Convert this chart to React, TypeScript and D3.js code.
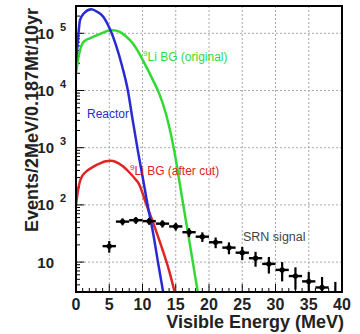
import React from 'react';
import * as d3 from 'd3';

// Reactor anti-neutrino background (events per 2 MeV bin)
const reactorE = [0, 0.3, 0.6, 1.2, 2.3, 3, 4.1, 5, 6, 7, 7.8, 8.5, 9.3, 10, 10.8, 11.6, 12.4, 13.2];
const reactorN = [31600, 79000, 170000, 224000, 263000, 245000, 195000, 126000, 63000, 25000, 10000, 3160, 890, 316, 95, 32, 8.9, 2.6];

// 9Li background before cuts
const liOrigE = [0, 0.4, 1, 1.5, 2, 3, 4, 5, 5.6, 6.5, 7.5, 8.5, 9.5, 10.5, 11.5, 12.5, 13.5, 14.6, 15, 16, 17, 17.6, 18.4];
const liOrigN = [20000, 40000, 67600, 76000, 81000, 91000, 102000, 112000, 113500, 107000, 89000, 67600, 44700, 26900, 15800, 8900, 4000, 1120, 630, 123, 25, 9.5, 2.6];

// 9Li background after cuts
const liCutE = [0, 0.3, 0.7, 1.5, 2.5, 3.5, 4.5, 5.2, 6, 7, 8, 9, 9.4, 10.6, 12, 13, 14, 14.9];
const liCutN = [100, 178, 282, 380, 457, 525, 582, 589, 562, 479, 372, 275, 240, 100, 36, 16.6, 7.1, 2.8];

// SRN signal histogram: bin centres, contents and errors
const srnE = [5, 7, 9, 11, 13, 15, 17, 19, 21, 23, 25, 27, 29, 31, 33, 35, 37, 39];
const srnN = [19, 51, 54, 52, 47, 42, 33.3, 27.8, 22.2, 17.9, 14.6, 11.7, 9.3, 7.3, 5.7, 4.6, 3.6, 2.8];
const srnErr = [4.4, 7.1, 7.3, 7.2, 6.9, 6.5, 5.8, 5.3, 4.7, 4.2, 3.8, 3.4, 3.0, 2.7, 2.4, 2.1, 1.9, 1.7];

const xTickValues = [0, 5, 10, 15, 20, 25, 30, 35, 40];
const yDecadeExps = [1, 2, 3, 4, 5];

const W = 360;
const H = 334;
const plot = { left: 76, right: 342, top: 6, bottom: 292 };

const BLUE = '#2a2ad4';
const GREEN = '#33d933';
const RED = '#e02424';
const FONT = "'Liberation Sans', Arial, Helvetica, sans-serif";

export default function App() {
  const x = d3.scaleLinear().domain([0, 40]).range([plot.left, plot.right]);
  const y = d3.scaleLog().domain([3, 3e5]).range([plot.bottom, plot.top]);

  const line = d3
    .line<[number, number]>()
    .x((d) => x(d[0]))
    .y((d) => y(d[1]))
    .curve(d3.curveMonotoneX);

  const zip = (a: number[], b: number[]) => a.map((v, i) => [v, b[i]] as [number, number]);

  const yMinor: number[] = [];
  for (let d = 0; d <= 5; d++) {
    for (let k = 1; k <= 9; k++) {
      const v = k * Math.pow(10, d);
      if (v >= 3 && v <= 3e5) yMinor.push(v);
    }
  }
  const xMinor = d3.range(0, 40.01, 1);

  const [y0, y1] = y.domain();

  return (
    <svg
      width={W}
      height={H}
      style={{ position: 'absolute', left: 0, top: 0, background: '#fff' }}
      fontFamily={FONT}
    >
      <defs>
        <clipPath id="plotArea">
          <rect x={plot.left} y={plot.top} width={plot.right - plot.left} height={plot.bottom - plot.top} />
        </clipPath>
      </defs>

      {/* grid */}
      <g stroke="#a8a8a8" strokeWidth={1} strokeDasharray="2,2">
        {xTickValues.slice(1, -1).map((v) => (
          <line key={'gx' + v} x1={x(v)} x2={x(v)} y1={plot.top} y2={plot.bottom} />
        ))}
        {yDecadeExps.map((e) => (
          <line key={'gy' + e} x1={plot.left} x2={plot.right} y1={y(Math.pow(10, e))} y2={y(Math.pow(10, e))} />
        ))}
      </g>

      {/* ticks */}
      <g stroke="#000" strokeWidth={1}>
        {xMinor.map((v) => (
          <line key={'tx' + v} x1={x(v)} x2={x(v)} y1={plot.bottom} y2={plot.bottom - (v % 5 === 0 ? 8 : 4)} />
        ))}
        {yMinor.map((v) => {
          const major = Math.abs(Math.log10(v) - Math.round(Math.log10(v))) < 1e-9;
          return <line key={'ty' + v} x1={plot.left} x2={plot.left + (major ? 8 : 4)} y1={y(v)} y2={y(v)} />;
        })}
      </g>

      {/* curves */}
      <g clipPath="url(#plotArea)" fill="none" strokeWidth={2.5} strokeLinejoin="round">
        <path d={line(zip(liOrigE, liOrigN)) || ''} stroke={GREEN} />
        <path d={line(zip(liCutE, liCutN)) || ''} stroke={RED} />
        <path d={line(zip(reactorE, reactorN)) || ''} stroke={BLUE} />
      </g>

      {/* SRN signal */}
      <g clipPath="url(#plotArea)" stroke="#000" fill="#000">
        {srnE.map((e, i) => {
          const n = srnN[i];
          const err = srnErr[i];
          const lo = Math.max(n - err, y0 * 0.5);
          return (
            <g key={'srn' + e}>
              <line x1={x(e - 1)} x2={x(e + 1)} y1={y(n)} y2={y(n)} strokeWidth={2.4} />
              <line x1={x(e)} x2={x(e)} y1={y(Math.min(n + err, y1))} y2={y(lo)} strokeWidth={2.2} />
              <circle cx={x(e)} cy={y(n)} r={2.6} stroke="none" />
            </g>
          );
        })}
      </g>

      {/* frame */}
      <rect
        x={plot.left}
        y={plot.top}
        width={plot.right - plot.left}
        height={plot.bottom - plot.top}
        fill="none"
        stroke="#000"
        strokeWidth={2}
      />

      {/* x tick labels */}
      <g fontSize={16} fontWeight="bold" textAnchor="middle" fill="#222">
        {xTickValues.map((v) => (
          <text key={'lx' + v} x={x(v)} y={310}>
            {v}
          </text>
        ))}
      </g>

      {/* y tick labels */}
      <g fontWeight="bold" fill="#222">
        {yDecadeExps.map((e) => {
          const yy = y(Math.pow(10, e));
          return (
            <g key={'ly' + e}>
              <text x={54} y={yy + 5.5} fontSize={15} textAnchor="end">
                10
              </text>
              {e > 1 && (
                <text x={60} y={yy - 2.5} fontSize={11}>
                  {e}
                </text>
              )}
            </g>
          );
        })}
      </g>

      {/* axis titles */}
      <text x={344} y={328} fontSize={18} fontWeight="bold" textAnchor="end" fill="#222">
        Visible Energy (MeV)
      </text>
      <text
        transform="translate(38,120) rotate(-90)"
        fontSize={18}
        fontWeight="bold"
        textAnchor="middle"
        fill="#222"
      >
        Events/2MeV/0.187Mt/10yr
      </text>

      {/* curve labels */}
      <text x={87} y={118} fontSize={12} fill={BLUE}>
        Reactor
      </text>
      <text x={143} y={61} fontSize={12} fill={GREEN}>
        <tspan fontSize={8} dy={-5}>9</tspan>
        <tspan dy={5}>Li BG (original)</tspan>
      </text>
      <text x={130} y={175} fontSize={12} fill={RED}>
        <tspan fontSize={8} dy={-5}>9</tspan>
        <tspan dy={5}>Li BG (after cut)</tspan>
      </text>
      <text x={243} y={241} fontSize={12.5} fill="#444">
        SRN signal
      </text>
    </svg>
  );
}
